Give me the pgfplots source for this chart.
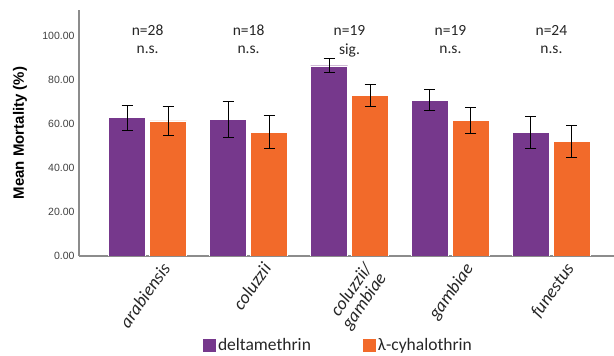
\documentclass[border=0pt]{standalone}
\usepackage{pgfplots}
\pgfplotsset{compat=1.18}
\usepackage{fontspec}
\setmainfont{Carlito}
\newfontfamily\arial{Liberation Sans}
\definecolor{cpurple}{HTML}{76388C}
\definecolor{corange}{HTML}{F26A2A}
\definecolor{caxis}{HTML}{8C8C8C}
\begin{document}
\begin{tikzpicture}
\begin{axis}[
  scale only axis, width=535pt, height=246pt,
  at={(0,0)}, anchor=south west,
  ybar=4pt, bar width=37pt,
  xmin=-0.68, xmax=4.62, ymin=0, ymax=111.7,
  axis x line*=bottom, axis y line*=left,
  axis line style={-, draw=caxis, line width=1.3pt},
  major tick length=0pt,
  xtick={0.13,1.13,2.13,3.13,4.13},
  xticklabels={arabiensis,coluzzii,{coluzzii/\\gambiae},gambiae,funestus},
  xticklabel style={rotate=55, anchor=north east, inner sep=0pt, align=right,
    font=\fontsize{18}{17}\selectfont\itshape, text=black!85},
  xticklabel shift=5pt,
  ytick={0,20,40,60,80,100},
  /pgf/number format/assume math mode=true,
  yticklabel={\pgfmathprintnumber[fixed,fixed zerofill,precision=2]{\tick}},
  yticklabel style={font=\arial\fontsize{10.5}{12}\selectfont, text=black!75, xshift=-1pt},
  ylabel={Mean Mortality (\%)},
  every axis y label/.style={at={(axis description cs:0,0.5)}, xshift=-59pt, rotate=90, anchor=center,
    font=\arial\bfseries\fontsize{15}{17}\selectfont},
  legend columns=2,
  legend style={at={(axis description cs:0.485,-0.362)}, anchor=center, draw=none, fill=none,
    font=\fontsize{17.5}{20}\selectfont, text=black!85,
    /tikz/every even column/.append style={column sep=50pt},
    inner sep=0pt, row sep=0pt},
  legend image code/.code={\fill[#1, draw=none] (0pt,-6.5pt) rectangle (13pt,6.5pt);},
  error bars/error bar style={black, line width=1pt},
  error bars/error mark options={rotate=90, mark size=5.5pt, line width=1pt, black},
]
\addplot[fill=cpurple, draw=white, line width=0.4pt,
  error bars/.cd, y dir=both, y explicit] coordinates {
  (0,62.8) +- (0,5.7)
  (1,62.0) +- (0,8.0)
  (2,86.4) +- (0,3.3)
  (3,70.8) +- (0,4.8)
  (4,56.1) +- (0,7.2)
};
\addplot[fill=corange, draw=white, line width=0.4pt,
  error bars/.cd, y dir=both, y explicit] coordinates {
  (0,61.3) +- (0,6.7)
  (1,56.3) +- (0,7.4)
  (2,72.8) +- (0,4.9)
  (3,61.6) +- (0,5.9)
  (4,52.0) +- (0,7.2)
};
\legend{deltamethrin,λ-cyhalothrin}
\begin{scope}[every node/.style={font=\fontsize{15.5}{18}\selectfont, text=black!85}]
\node at (axis cs:0,102.6) {n=28};
\node at (axis cs:1,102.6) {n=18};
\node at (axis cs:2,102.6) {n=19};
\node at (axis cs:3,102.6) {n=19};
\node at (axis cs:4,102.6) {n=24};
\node at (axis cs:0,93.5) {n.s.};
\node at (axis cs:1,93.5) {n.s.};
\node at (axis cs:2,93.5) {sig.};
\node at (axis cs:3,93.5) {n.s.};
\node at (axis cs:4,93.5) {n.s.};
\end{scope}
\end{axis}
\pgfresetboundingbox
\path (-79pt,-100pt) rectangle (535pt,256pt);
\end{tikzpicture}
\end{document}
